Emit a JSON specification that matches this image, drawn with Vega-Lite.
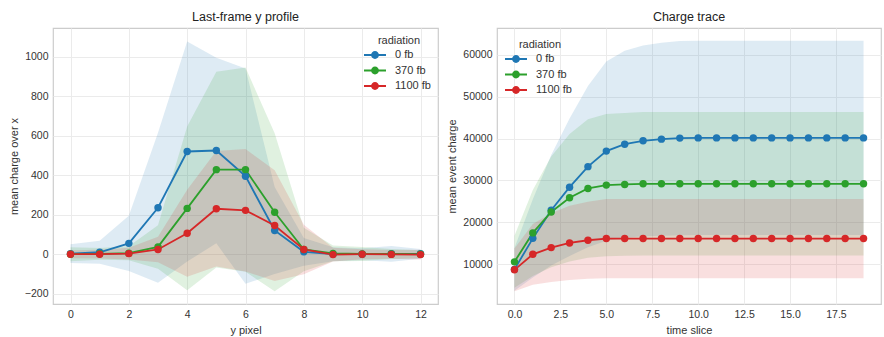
{
  "$schema": "https://vega.github.io/schema/vega-lite/v6.json",
  "background": "white",
  "padding": {"left": 7, "top": 9, "right": 2, "bottom": 4},
  "spacing": 7,
  "resolve": {"legend": {"color": "independent"}},
  "config": {
    "font": "Liberation Sans",
    "view": {"stroke": "#cccccc", "strokeWidth": 1.2},
    "axis": {"domain": false, "ticks": false, "grid": true, "gridColor": "#ebebeb", "gridWidth": 1,
      "labelFont": "Liberation Sans", "labelFontSize": 10.5, "labelColor": "#333333", "labelPadding": 5,
      "titleFont": "Liberation Sans", "titleFontSize": 11, "titleFontWeight": "normal", "titleColor": "#333333", "titlePadding": 5},
    "title": {"font": "Liberation Sans", "fontSize": 12.5, "fontWeight": "normal", "color": "#222222", "offset": 5},
    "legend": {"titleFont": "Liberation Sans", "titleFontSize": 11, "titleFontWeight": "normal", "titleColor": "#333333",
      "labelFont": "Liberation Sans", "labelFontSize": 11, "labelColor": "#333333", "labelOffset": 12,
      "symbolType": "M-1.57,0H1.57M-0.43,0A0.43,0.43,0,1,1,0.43,0A0.43,0.43,0,1,1,-0.43,0Z",
      "symbolSize": 196, "symbolStrokeWidth": 1.8, "symbolOpacity": 1, "rowPadding": 0.5, "titleAnchor": "middle", "titlePadding": 1}
  },
  "datasets": {
    "profile": [
      {"ypix": 0, "rad": "0 fb", "mean": 3, "lo": -45, "hi": 51},
      {"ypix": 1, "rad": "0 fb", "mean": 10, "lo": -48, "hi": 68},
      {"ypix": 2, "rad": "0 fb", "mean": 55, "lo": -85, "hi": 195},
      {"ypix": 3, "rad": "0 fb", "mean": 235, "lo": -145, "hi": 615},
      {"ypix": 4, "rad": "0 fb", "mean": 520, "lo": -37, "hi": 1077},
      {"ypix": 5, "rad": "0 fb", "mean": 525, "lo": 55, "hi": 995},
      {"ypix": 6, "rad": "0 fb", "mean": 395, "lo": -150, "hi": 940},
      {"ypix": 7, "rad": "0 fb", "mean": 120, "lo": -100, "hi": 340},
      {"ypix": 8, "rad": "0 fb", "mean": 12, "lo": -58, "hi": 82},
      {"ypix": 9, "rad": "0 fb", "mean": 0, "lo": -35, "hi": 35},
      {"ypix": 10, "rad": "0 fb", "mean": 0, "lo": -30, "hi": 30},
      {"ypix": 11, "rad": "0 fb", "mean": 2, "lo": -38, "hi": 42},
      {"ypix": 12, "rad": "0 fb", "mean": 2, "lo": -23, "hi": 27},
      {"ypix": 0, "rad": "370 fb", "mean": 0, "lo": -35, "hi": 35},
      {"ypix": 1, "rad": "370 fb", "mean": 2, "lo": -28, "hi": 32},
      {"ypix": 2, "rad": "370 fb", "mean": 5, "lo": -30, "hi": 40},
      {"ypix": 3, "rad": "370 fb", "mean": 37, "lo": -73, "hi": 147},
      {"ypix": 4, "rad": "370 fb", "mean": 232, "lo": -183, "hi": 647},
      {"ypix": 5, "rad": "370 fb", "mean": 428, "lo": -67, "hi": 923},
      {"ypix": 6, "rad": "370 fb", "mean": 428, "lo": -89, "hi": 945},
      {"ypix": 7, "rad": "370 fb", "mean": 212, "lo": -188, "hi": 612},
      {"ypix": 8, "rad": "370 fb", "mean": 24, "lo": -86, "hi": 134},
      {"ypix": 9, "rad": "370 fb", "mean": 4, "lo": -36, "hi": 44},
      {"ypix": 10, "rad": "370 fb", "mean": 1, "lo": -34, "hi": 36},
      {"ypix": 11, "rad": "370 fb", "mean": 1, "lo": -24, "hi": 26},
      {"ypix": 12, "rad": "370 fb", "mean": 0, "lo": -20, "hi": 20},
      {"ypix": 0, "rad": "1100 fb", "mean": 0, "lo": -20, "hi": 20},
      {"ypix": 1, "rad": "1100 fb", "mean": 0, "lo": -22, "hi": 22},
      {"ypix": 2, "rad": "1100 fb", "mean": 3, "lo": -27, "hi": 33},
      {"ypix": 3, "rad": "1100 fb", "mean": 24, "lo": -41, "hi": 89},
      {"ypix": 4, "rad": "1100 fb", "mean": 106, "lo": -114, "hi": 326},
      {"ypix": 5, "rad": "1100 fb", "mean": 230, "lo": -62, "hi": 522},
      {"ypix": 6, "rad": "1100 fb", "mean": 222, "lo": -88, "hi": 532},
      {"ypix": 7, "rad": "1100 fb", "mean": 145, "lo": -135, "hi": 425},
      {"ypix": 8, "rad": "1100 fb", "mean": 24, "lo": -101, "hi": 149},
      {"ypix": 9, "rad": "1100 fb", "mean": -2, "lo": -37, "hi": 33},
      {"ypix": 10, "rad": "1100 fb", "mean": 0, "lo": -25, "hi": 25},
      {"ypix": 11, "rad": "1100 fb", "mean": -1, "lo": -23, "hi": 21},
      {"ypix": 12, "rad": "1100 fb", "mean": -2, "lo": -27, "hi": 23}
    ],
    "trace": [
      {"t": 0, "rad": "0 fb", "mean": 8800, "lo": 3720, "hi": 13880},
      {"t": 1, "rad": "0 fb", "mean": 16200, "lo": 6850, "hi": 25550},
      {"t": 2, "rad": "0 fb", "mean": 22900, "lo": 9700, "hi": 36100},
      {"t": 3, "rad": "0 fb", "mean": 28400, "lo": 12000, "hi": 44800},
      {"t": 4, "rad": "0 fb", "mean": 33300, "lo": 14100, "hi": 52500},
      {"t": 5, "rad": "0 fb", "mean": 37000, "lo": 15650, "hi": 58350},
      {"t": 6, "rad": "0 fb", "mean": 38650, "lo": 16350, "hi": 60950},
      {"t": 7, "rad": "0 fb", "mean": 39450, "lo": 16700, "hi": 62200},
      {"t": 8, "rad": "0 fb", "mean": 39850, "lo": 16850, "hi": 62850},
      {"t": 9, "rad": "0 fb", "mean": 40100, "lo": 16950, "hi": 63250},
      {"t": 10, "rad": "0 fb", "mean": 40150, "lo": 17000, "hi": 63300},
      {"t": 11, "rad": "0 fb", "mean": 40150, "lo": 17000, "hi": 63300},
      {"t": 12, "rad": "0 fb", "mean": 40150, "lo": 17000, "hi": 63300},
      {"t": 13, "rad": "0 fb", "mean": 40150, "lo": 17000, "hi": 63300},
      {"t": 14, "rad": "0 fb", "mean": 40150, "lo": 17000, "hi": 63300},
      {"t": 15, "rad": "0 fb", "mean": 40150, "lo": 17000, "hi": 63300},
      {"t": 16, "rad": "0 fb", "mean": 40150, "lo": 17000, "hi": 63300},
      {"t": 17, "rad": "0 fb", "mean": 40150, "lo": 17000, "hi": 63300},
      {"t": 18, "rad": "0 fb", "mean": 40150, "lo": 17000, "hi": 63300},
      {"t": 19, "rad": "0 fb", "mean": 40150, "lo": 17000, "hi": 63300},
      {"t": 0, "rad": "370 fb", "mean": 10600, "lo": 4400, "hi": 16800},
      {"t": 1, "rad": "370 fb", "mean": 17500, "lo": 7250, "hi": 27750},
      {"t": 2, "rad": "370 fb", "mean": 22500, "lo": 9300, "hi": 35700},
      {"t": 3, "rad": "370 fb", "mean": 25900, "lo": 10700, "hi": 41100},
      {"t": 4, "rad": "370 fb", "mean": 28100, "lo": 11600, "hi": 44600},
      {"t": 5, "rad": "370 fb", "mean": 28900, "lo": 11950, "hi": 45850},
      {"t": 6, "rad": "370 fb", "mean": 29050, "lo": 12030, "hi": 46070},
      {"t": 7, "rad": "370 fb", "mean": 29200, "lo": 12100, "hi": 46300},
      {"t": 8, "rad": "370 fb", "mean": 29200, "lo": 12100, "hi": 46300},
      {"t": 9, "rad": "370 fb", "mean": 29200, "lo": 12100, "hi": 46300},
      {"t": 10, "rad": "370 fb", "mean": 29200, "lo": 12100, "hi": 46300},
      {"t": 11, "rad": "370 fb", "mean": 29200, "lo": 12100, "hi": 46300},
      {"t": 12, "rad": "370 fb", "mean": 29200, "lo": 12100, "hi": 46300},
      {"t": 13, "rad": "370 fb", "mean": 29200, "lo": 12100, "hi": 46300},
      {"t": 14, "rad": "370 fb", "mean": 29200, "lo": 12100, "hi": 46300},
      {"t": 15, "rad": "370 fb", "mean": 29200, "lo": 12100, "hi": 46300},
      {"t": 16, "rad": "370 fb", "mean": 29200, "lo": 12100, "hi": 46300},
      {"t": 17, "rad": "370 fb", "mean": 29200, "lo": 12100, "hi": 46300},
      {"t": 18, "rad": "370 fb", "mean": 29200, "lo": 12100, "hi": 46300},
      {"t": 19, "rad": "370 fb", "mean": 29200, "lo": 12100, "hi": 46300},
      {"t": 0, "rad": "1100 fb", "mean": 8700, "lo": 3600, "hi": 13800},
      {"t": 1, "rad": "1100 fb", "mean": 12400, "lo": 5150, "hi": 19650},
      {"t": 2, "rad": "1100 fb", "mean": 14000, "lo": 5800, "hi": 22200},
      {"t": 3, "rad": "1100 fb", "mean": 15100, "lo": 6250, "hi": 23950},
      {"t": 4, "rad": "1100 fb", "mean": 15750, "lo": 6550, "hi": 24950},
      {"t": 5, "rad": "1100 fb", "mean": 16150, "lo": 6700, "hi": 25600},
      {"t": 6, "rad": "1100 fb", "mean": 16150, "lo": 6700, "hi": 25600},
      {"t": 7, "rad": "1100 fb", "mean": 16150, "lo": 6700, "hi": 25600},
      {"t": 8, "rad": "1100 fb", "mean": 16150, "lo": 6700, "hi": 25600},
      {"t": 9, "rad": "1100 fb", "mean": 16150, "lo": 6700, "hi": 25600},
      {"t": 10, "rad": "1100 fb", "mean": 16150, "lo": 6700, "hi": 25600},
      {"t": 11, "rad": "1100 fb", "mean": 16150, "lo": 6700, "hi": 25600},
      {"t": 12, "rad": "1100 fb", "mean": 16150, "lo": 6700, "hi": 25600},
      {"t": 13, "rad": "1100 fb", "mean": 16150, "lo": 6700, "hi": 25600},
      {"t": 14, "rad": "1100 fb", "mean": 16150, "lo": 6700, "hi": 25600},
      {"t": 15, "rad": "1100 fb", "mean": 16150, "lo": 6700, "hi": 25600},
      {"t": 16, "rad": "1100 fb", "mean": 16150, "lo": 6700, "hi": 25600},
      {"t": 17, "rad": "1100 fb", "mean": 16150, "lo": 6700, "hi": 25600},
      {"t": 18, "rad": "1100 fb", "mean": 16150, "lo": 6700, "hi": 25600},
      {"t": 19, "rad": "1100 fb", "mean": 16150, "lo": 6700, "hi": 25600}
    ]
  },
  "hconcat": [
    {
      "width": 385, "height": 276,
      "title": "Last-frame y profile",
      "data": {"name": "profile"},
      "encoding": {
        "x": {"field": "ypix", "type": "quantitative", "scale": {"domain": [-0.6, 12.6], "nice": false, "zero": false},
          "axis": {"values": [0, 2, 4, 6, 8, 10, 12], "format": "d", "title": "y pixel"}}
      },
      "layer": [
        {"mark": {"type": "area", "opacity": 0.15},
          "encoding": {
            "y": {"field": "lo", "type": "quantitative", "scale": {"domain": [-252, 1145], "nice": false, "zero": false},
              "axis": {"values": [-200, 0, 200, 400, 600, 800, 1000], "format": "d", "title": "mean charge over x"}},
            "y2": {"field": "hi"},
            "fill": {"field": "rad", "type": "nominal", "scale": {"domain": ["0 fb", "370 fb", "1100 fb"], "range": ["#1f77b4", "#2ca02c", "#d62728"]}, "legend": null}
          }},
        {"mark": {"type": "line", "strokeWidth": 1.8},
          "encoding": {
            "y": {"field": "mean", "type": "quantitative"},
            "color": {"field": "rad", "type": "nominal", "scale": {"domain": ["0 fb", "370 fb", "1100 fb"], "range": ["#1f77b4", "#2ca02c", "#d62728"]}}
          }},
        {"mark": {"type": "point", "filled": true, "opacity": 1, "size": 55},
          "encoding": {
            "y": {"field": "mean", "type": "quantitative"},
            "color": {"field": "rad", "type": "nominal",
              "legend": {"title": "radiation", "orient": "top-right", "offset": 7,
                "encode": {"symbols": {"update": {"fill": {"scale": "color", "field": "value"}, "stroke": {"scale": "color", "field": "value"}, "opacity": {"value": 1}}}}}}
          }}
      ]
    },
    {
      "width": 384, "height": 276,
      "title": "Charge trace",
      "data": {"name": "trace"},
      "encoding": {
        "x": {"field": "t", "type": "quantitative", "scale": {"domain": [-0.95, 19.95], "nice": false, "zero": false},
          "axis": {"values": [0, 2.5, 5, 7.5, 10, 12.5, 15, 17.5], "format": ".1f", "title": "time slice"}}
      },
      "layer": [
        {"mark": {"type": "area", "opacity": 0.15},
          "encoding": {
            "y": {"field": "lo", "type": "quantitative", "scale": {"domain": [550, 66350], "nice": false, "zero": false},
              "axis": {"values": [10000, 20000, 30000, 40000, 50000, 60000], "format": "d", "title": "mean event charge"}},
            "y2": {"field": "hi"},
            "fill": {"field": "rad", "type": "nominal", "scale": {"domain": ["0 fb", "370 fb", "1100 fb"], "range": ["#1f77b4", "#2ca02c", "#d62728"]}, "legend": null}
          }},
        {"mark": {"type": "line", "strokeWidth": 1.8},
          "encoding": {
            "y": {"field": "mean", "type": "quantitative"},
            "color": {"field": "rad", "type": "nominal", "scale": {"domain": ["0 fb", "370 fb", "1100 fb"], "range": ["#1f77b4", "#2ca02c", "#d62728"]}}
          }},
        {"mark": {"type": "point", "filled": true, "opacity": 1, "size": 55},
          "encoding": {
            "y": {"field": "mean", "type": "quantitative"},
            "color": {"field": "rad", "type": "nominal",
              "legend": {"title": "radiation", "orient": "top-left", "offset": 11,
                "encode": {"symbols": {"update": {"fill": {"scale": "color", "field": "value"}, "stroke": {"scale": "color", "field": "value"}, "opacity": {"value": 1}}}}}}
          }}
      ]
    }
  ]
}
